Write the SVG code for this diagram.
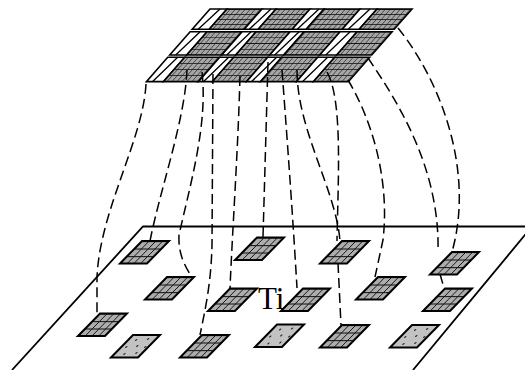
<svg xmlns="http://www.w3.org/2000/svg" xmlns:xlink="http://www.w3.org/1999/xlink" width="525" height="370" viewBox="0 0 525 370">
  <style>
    .edge { fill: none; stroke: #000; stroke-width: 1.8; }
    .pad { stroke: #000; stroke-width: 2; vector-effect: non-scaling-stroke; }
    .cell { stroke: #000; stroke-width: 1.6; vector-effect: non-scaling-stroke; }
    .gap { fill: #fff; stroke: #000; stroke-width: 1.6; vector-effect: non-scaling-stroke; }
    .thin { fill: none; stroke: #000; stroke-width: 1.3; vector-effect: non-scaling-stroke; }
    .wire { fill: none; stroke: #000; stroke-width: 1.5; stroke-dasharray: 10 5; }
    .label { font-family: "Liberation Serif", "Times New Roman", serif; font-size: 31px; fill: #000; }
  </style>
  <defs>
    <!-- 4 x 3 mesh inside a pad (local, unskewed units) -->
    <pattern id="padMesh" patternUnits="userSpaceOnUse" width="6.75" height="7.5">
      <rect width="6.75" height="7.5" fill="#adadad"/>
      <path d="M0,0 V7.5 M0,0 H6.75" stroke="#111" stroke-width="1.9" fill="none"/>
    </pattern>
    <!-- finer mesh for the die cells -->
    <pattern id="dieMesh" patternUnits="userSpaceOnUse" width="5" height="5">
      <rect width="5" height="5" fill="#a6a6a6"/>
      <path d="M0,0 V5 M0,0 H5" stroke="#111" stroke-width="1.3" fill="none"/>
    </pattern>
    <!-- meshed pad -->
    <g id="padMeshed">
      <rect class="pad" width="27" height="22.5" fill="url(#padMesh)"/>
    </g>
    <!-- dotted pad -->
    <g id="padDotted">
      <rect class="pad" width="27" height="22.5" fill="#c2c2c2"/>
      <g fill="#222">
        <circle cx="8" cy="5" r="0.9"/>
        <circle cx="19" cy="4" r="0.9"/>
        <circle cx="5" cy="12" r="0.9"/>
        <circle cx="15" cy="11" r="0.9"/>
        <circle cx="24" cy="12" r="0.9"/>
        <circle cx="10" cy="19" r="0.9"/>
        <circle cx="21" cy="18" r="0.9"/>
      </g>
    </g>
    <!-- one row of the die: four white gaps and four meshed cells -->
    <g id="dieRow">
      <rect class="gap" x="0" y="0" width="17" height="20.3"/>
      <rect class="cell" x="17" y="0" width="35" height="20.3" fill="url(#dieMesh)"/>
      <rect class="gap" x="52" y="0" width="14" height="20.3"/>
      <rect class="cell" x="66" y="0" width="34" height="20.3" fill="url(#dieMesh)"/>
      <rect class="gap" x="100" y="0" width="14" height="20.3"/>
      <rect class="cell" x="114" y="0" width="36" height="20.3" fill="url(#dieMesh)"/>
      <rect class="gap" x="150" y="0" width="17" height="20.3"/>
      <rect class="cell" x="167" y="0" width="35" height="20.3" fill="url(#dieMesh)"/>
      <path class="thin" d="M61,0 L57,20.3 M109,0 L105,20.3 M160,0 L156,20.3 M10,0 L6,20.3"/>
    </g>
  </defs>

  <!-- substrate plane -->
  <g id="substrate">
    <path class="edge" d="M12,370 L143,226.5 L532,226.5 L413,370" fill="#fff"/>
  </g>

  <g id="label-ti">
    <text class="label" x="258" y="309">Ti</text>
  </g>

  <!-- die above the substrate -->
  <g id="die" transform="translate(210,9) skewX(-41.2)">
    <use xlink:href="#dieRow"/>
    <use xlink:href="#dieRow" transform="translate(0,22.7) scale(1,1.148)"/>
    <use xlink:href="#dieRow" transform="translate(0,48.3) scale(1,1.2)"/>
  </g>

  <!-- pads on the substrate -->
  <g id="pad-a1"><use xlink:href="#padMeshed" transform="translate(142,241) skewX(-44.4)"/></g>
  <g id="pad-a2"><use xlink:href="#padMeshed" transform="translate(257,237.5) skewX(-44.4)"/></g>
  <g id="pad-a3"><use xlink:href="#padMeshed" transform="translate(342,241) skewX(-44.4)"/></g>
  <g id="pad-a4"><use xlink:href="#padMeshed" transform="translate(452,252) skewX(-44.4)"/></g>
  <g id="pad-b1"><use xlink:href="#padMeshed" transform="translate(167,277) skewX(-44.4)"/></g>
  <g id="pad-b2"><use xlink:href="#padMeshed" transform="translate(230,288.5) skewX(-44.4)"/></g>
  <g id="pad-b3"><use xlink:href="#padMeshed" transform="translate(303,288.5) skewX(-44.4)"/></g>
  <g id="pad-b4"><use xlink:href="#padMeshed" transform="translate(378,277) skewX(-44.4)"/></g>
  <g id="pad-b5"><use xlink:href="#padMeshed" transform="translate(445,288.5) skewX(-44.4)"/></g>
  <g id="pad-c1"><use xlink:href="#padMeshed" transform="translate(100,313.5) skewX(-44.4)"/></g>
  <g id="pad-c2"><use xlink:href="#padDotted" transform="translate(133,335) skewX(-44.4)"/></g>
  <g id="pad-c3"><use xlink:href="#padMeshed" transform="translate(202,335) skewX(-44.4)"/></g>
  <g id="pad-c4"><use xlink:href="#padDotted" transform="translate(277,324.5) skewX(-44.4)"/></g>
  <g id="pad-c5"><use xlink:href="#padMeshed" transform="translate(342,325) skewX(-44.4)"/></g>
  <g id="pad-c6"><use xlink:href="#padDotted" transform="translate(412,325) skewX(-44.4)"/></g>

  <!-- dashed bond wires -->
  <g id="wires">
    <path class="wire" d="M146,84 C143,140 100,210 97,277 L97,313"/>
    <path class="wire" d="M187,70 C185,120 160,190 150,241"/>
    <path class="wire" d="M202,72 C208,125 190,185 179,235 C178,255 186,268 192,277"/>
    <path class="wire" d="M213,74 L212,245 C211,285 205,310 200,335"/>
    <path class="wire" d="M240,76 C238,150 233,220 230,288"/>
    <path class="wire" d="M268,62 L263,237"/>
    <path class="wire" d="M282,70 C288,150 293,220 297,288"/>
    <path class="wire" d="M297,70 C297,130 336,190 340,241"/>
    <path class="wire" d="M327,72 C343,100 338,180 337,241"/>
    <path class="wire" d="M338,263 L341,325"/>
    <path class="wire" d="M348,80 C372,120 390,180 383,240 L375,277"/>
    <path class="wire" d="M368,58 C400,105 440,170 438,252"/>
    <path class="wire" d="M440,274 L444,288"/>
    <path class="wire" d="M398,28 C440,80 475,170 452,252"/>
  </g>
</svg>
